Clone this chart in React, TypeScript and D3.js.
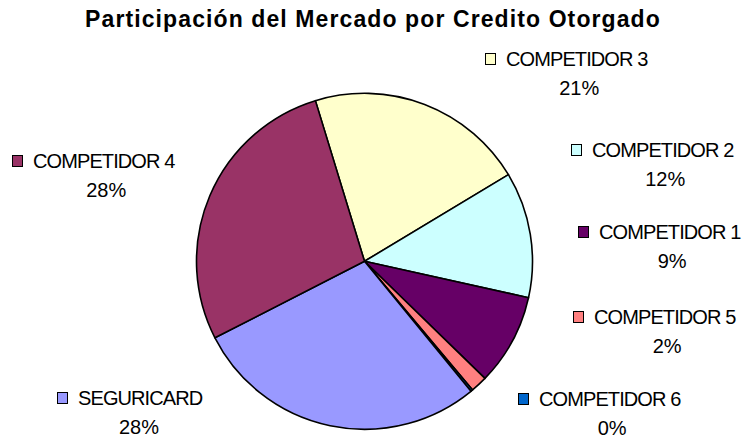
import React from 'react';
import * as d3 from 'd3';

// slices, clockwise starting at the first one
const categories = ['COMPETIDOR 3', 'COMPETIDOR 2', 'COMPETIDOR 1', 'COMPETIDOR 5', 'COMPETIDOR 6', 'SEGURICARD', 'COMPETIDOR 4'];
const shares = [21.1, 12.1, 8.8, 1.6, 0.2, 28.4, 27.8];
const sliceColors = ['#FFFFCC', '#CCFFFF', '#660066', '#FF8080', '#0066CC', '#9999FF', '#993366'];

// where Excel left each label (text start x, baseline y)
const labelSpots: [number, number][] = [
    [506, 66], [592, 157], [599, 239], [594, 324], [539, 406], [78, 405], [33, 168]
];

const width = 745;
const height = 438;
const cx = 364.5;
const cy = 261.3;
const radius = 168;
const firstAngle = -17 * Math.PI / 180;
const font = 'Arial, "Liberation Sans", sans-serif';

function App() {
    const pie = d3.pie<number>()
        .sort(null)
        .startAngle(firstAngle)
        .endAngle(firstAngle + 2 * Math.PI);
    const arcs = pie(shares);
    const arc = d3.arc<d3.PieArcDatum<number>>()
        .innerRadius(0)
        .outerRadius(radius);
    const total = d3.sum(shares);

    return (
        <svg width={width} height={height} style={{ position: 'absolute', left: 0, top: 0, background: '#fff' }}>
            <text x={373} y={27} textAnchor="middle" fontFamily={font} fontWeight="bold" fontSize={23}
                letterSpacing={1.1} fill="#000">
                Participación del Mercado por Credito Otorgado
            </text>
            <g transform={`translate(${cx},${cy})`}>
                {arcs.map((d, i) => (
                    <path key={i} d={arc(d) || ''} fill={sliceColors[i]} stroke="#000" strokeWidth={1.6}
                        strokeLinejoin="round" />
                ))}
            </g>
            {categories.map((name, i) => {
                const [x, y] = labelSpots[i];
                const pct = Math.round(shares[i] / total * 100) + '%';
                // rough text width so the percent sits centered under the name
                const w = name.length * 12.2;
                return (
                    <g key={name} fontFamily={font} fontSize={20} fill="#000">
                        <rect x={x - 20.5} y={y - 12.5} width={10} height={11} fill={sliceColors[i]}
                            stroke="#000" strokeWidth={1} />
                        <text x={x} y={y} letterSpacing={-0.9}>{name}</text>
                        <text x={x + w / 2} y={y + 28.5} textAnchor="middle">{pct}</text>
                    </g>
                );
            })}
        </svg>
    );
}

export default App;
